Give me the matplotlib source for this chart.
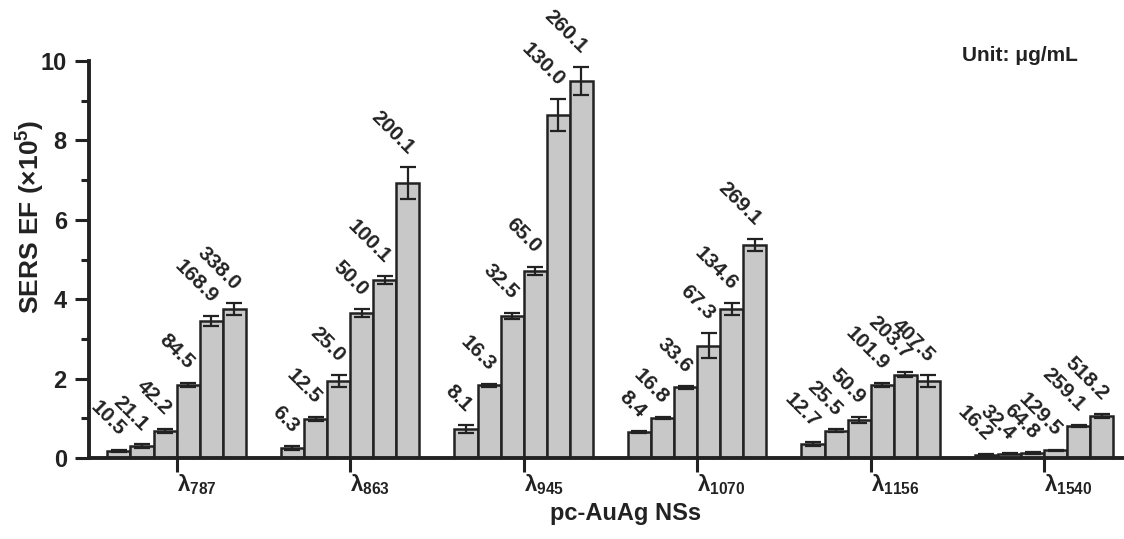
import numpy as np
import matplotlib
matplotlib.use('Agg')
import matplotlib.pyplot as plt
from matplotlib.transforms import ScaledTranslation

plt.rcParams['font.family'] = ['Liberation Sans', 'DejaVu Sans']
plt.rcParams['font.weight'] = 'bold'
plt.rcParams['mathtext.fontset'] = 'custom'
plt.rcParams['mathtext.rm'] = 'Liberation Sans:bold'
plt.rcParams['mathtext.bf'] = 'Liberation Sans:bold'
plt.rcParams['mathtext.it'] = 'Liberation Sans:bold'

# groups (excitation wavelength) and SERS EF values (x1e5)
groups = ['787', '863', '945', '1070', '1156', '1540']
ef = [
    [0.18, 0.30, 0.68, 1.85, 3.45, 3.75],
    [0.25, 0.97, 1.93, 3.65, 4.48, 6.92],
    [0.73, 1.83, 3.58, 4.72, 8.64, 9.50],
    [0.65, 1.00, 1.78, 2.83, 3.75, 5.37],
    [0.36, 0.69, 0.95, 1.84, 2.10, 1.93],
    [0.07, 0.11, 0.12, 0.19, 0.80, 1.06],
]
err = [
    [0.03, 0.04, 0.06, 0.05, 0.12, 0.15],
    [0.04, 0.05, 0.15, 0.10, 0.10, 0.40],
    [0.10, 0.03, 0.08, 0.10, 0.40, 0.35],
    [0.02, 0.03, 0.03, 0.32, 0.15, 0.15],
    [0.05, 0.03, 0.07, 0.04, 0.06, 0.15],
    [0.02, 0.02, 0.02, 0.02, 0.03, 0.05],
]
conc = [
    ['10.5', '21.1', '42.2', '84.5', '168.9', '338.0'],
    ['6.3', '12.5', '25.0', '50.0', '100.1', '200.1'],
    ['8.1', '16.3', '32.5', '65.0', '130.0', '260.1'],
    ['8.4', '16.8', '33.6', '67.3', '134.6', '269.1'],
    ['12.7', '25.5', '50.9', '101.9', '203.7', '407.5'],
    ['16.2', '32.4', '64.8', '129.5', '259.1', '518.2'],
]

fig = plt.figure(figsize=(11.24, 5.39), dpi=100)
ax = fig.add_axes([0.0792, 0.1503, 0.9208, 0.7365])

w = 0.133
for g in range(len(groups)):
    xs = g + (np.arange(6) - 2.5) * w
    ax.bar(xs, ef[g], width=w, color='#c8c8c8', edgecolor='#222222', linewidth=1.8, zorder=2)
    ax.errorbar(xs, ef[g], yerr=err[g], fmt='none', ecolor='#222222', elinewidth=1.6,
                capsize=5.5, capthick=1.6, zorder=3)
    for x, v, e, t in zip(xs, ef[g], err[g], conc[g]):
        ax.annotate(t, (x, v + e), xytext=(7, 7), textcoords='offset points',
                    rotation=-45, ha='right', va='bottom', fontsize=15, fontweight='bold',
                    color='#222222')

ax.set_xlim(-0.505, 5.46)
ax.set_ylim(0, 10)
ax.set_xticks(range(len(groups)))
ax.set_xticklabels(['λ$_{%s}$' % s for s in groups], fontsize=16, fontweight='bold',
                   ha='left')
shift = ScaledTranslation(-9 / 100, 0, fig.dpi_scale_trans)
for lab in ax.get_xticklabels():
    lab.set_transform(lab.get_transform() + shift)
ax.set_yticks([0, 2, 4, 6, 8, 10])
ax.set_yticks([1, 3, 5, 7, 9], minor=True)
ax.tick_params(axis='both', which='major', direction='out', length=10, width=2.2,
               colors='#222222')
ax.tick_params(axis='y', which='major', labelsize=17, pad=6)
ax.tick_params(axis='y', which='minor', direction='out', length=6, width=2.2, colors='#222222')
ax.tick_params(axis='x', pad=0.5)
for lab in ax.get_yticklabels():
    lab.set_fontweight('bold')

for s in ['top', 'right']:
    ax.spines[s].set_visible(False)
for s in ['left', 'bottom']:
    ax.spines[s].set_linewidth(2.8)
    ax.spines[s].set_color('#222222')

ax.set_ylabel('SERS EF (×10$^{5}$)', fontsize=19, fontweight='bold', color='#222222')
ax.yaxis.set_label_coords(-0.041, 0.607)
ax.set_xlabel('pc-AuAg NSs', fontsize=17, fontweight='bold', color='#222222')
ax.xaxis.set_label_coords(0.518, -0.11)
ax.text(0.9556, 1.038, 'Unit: μg/mL', transform=ax.transAxes, ha='right', va='top',
        fontsize=15, fontweight='bold', color='#222222')

fig.savefig('out.png', dpi=100)
